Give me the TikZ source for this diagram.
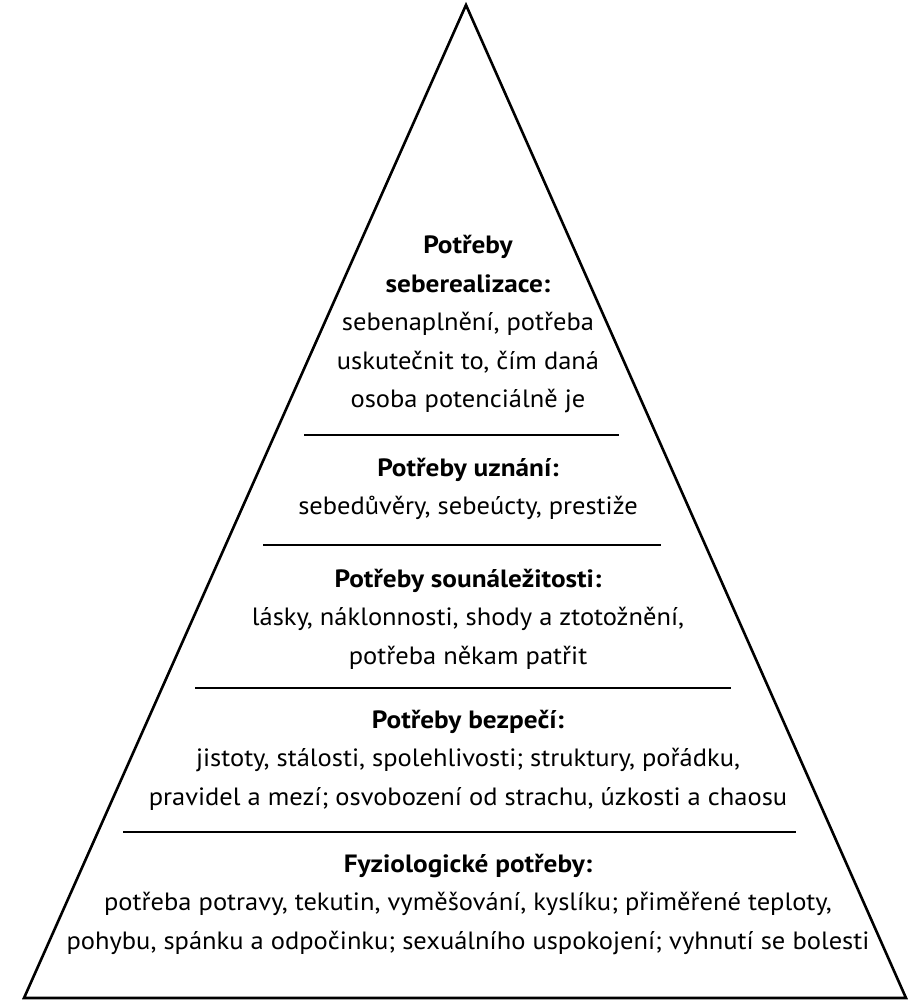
\documentclass[tikz,border=0pt]{standalone}
\usepackage{fontspec}
\setmainfont{PT Sans}[FakeStretch=1.06]
\newfontfamily\hdfont{PT Sans}[FakeStretch=1.09]
\newcommand{\hd}[1]{{\hdfont\bfseries #1}}
\begin{document}
\begin{tikzpicture}[x=1pt,y=-1pt,
  edge/.style={line width=2.6pt,line join=miter},
  sep/.style={line width=2.4pt},
  blk/.style={align=center,inner sep=0pt,font=\fontsize{25}{38.5}\selectfont}]
\useasboundingbox (0,0) rectangle (910,1004);
\coordinate (apex) at (466,5);
\coordinate (bl) at (24,998);
\coordinate (br) at (906,998);
\draw[edge] (bl) -- (apex) -- (br) -- cycle;
\coordinate (a1) at (304,435); \coordinate (b1) at (619,435);
\coordinate (a2) at (263,545); \coordinate (b2) at (661,545);
\coordinate (a3) at (195,688); \coordinate (b3) at (731,688);
\coordinate (a4) at (123,832); \coordinate (b4) at (796,832);
\draw[sep] (a1) -- (b1);
\draw[sep] (a2) -- (b2);
\draw[sep] (a3) -- (b3);
\draw[sep] (a4) -- (b4);
\node[blk] (t1) at (468,324) {\hd{Potřeby}\\\hd{seberealizace:}\\sebenaplnění, potřeba\\uskutečnit to, čím daná\\osoba potenciálně je};
\node[blk] (t2) at (468,489) {\hd{Potřeby uznání:}\\sebedůvěry, sebeúcty, prestiže};
\node[blk] (t3) at (468,619) {\hd{Potřeby sounáležitosti:}\\lásky, náklonnosti, shody a ztotožnění,\\potřeba někam patřit};
\node[blk] (t4) at (468,760) {\hd{Potřeby bezpečí:}\\jistoty, stálosti, spolehlivosti; struktury, pořádku,\\pravidel a mezí; osvobození od strachu, úzkosti a chaosu};
\node[blk] (t5) at (468,904) {\hd{Fyziologické potřeby:}\\potřeba potravy, tekutin, vyměšování, kyslíku; přiměřené teploty,\\pohybu, spánku a odpočinku; sexuálního uspokojení; vyhnutí se bolesti};
\end{tikzpicture}
\end{document}
